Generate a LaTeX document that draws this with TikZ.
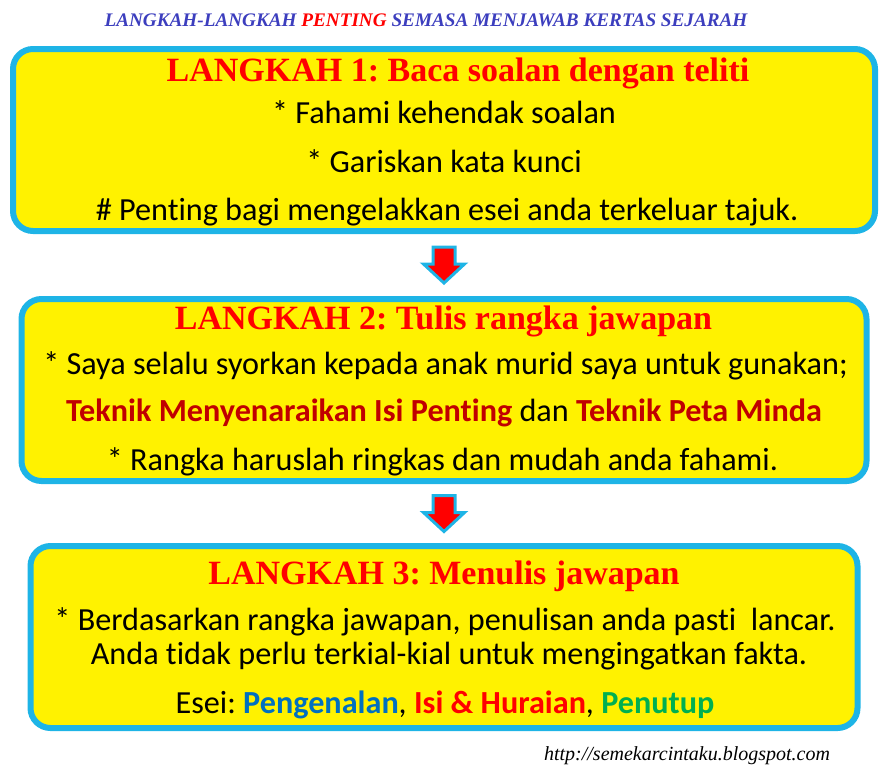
\documentclass[tikz,border=0pt]{standalone}
\usepackage{fontspec}
\setmainfont{Carlito}[Ligatures=NoCommon]
\newfontfamily\headfont{Liberation Serif}
\usetikzlibrary{positioning}
\definecolor{boxblue}{RGB}{30,180,230}
\definecolor{titleblue}{RGB}{60,62,190}
\definecolor{darkred}{RGB}{192,0,0}
\definecolor{pengblue}{RGB}{0,112,192}
\definecolor{tutupgreen}{RGB}{0,176,80}

\begin{document}
\frenchspacing
\begin{tikzpicture}[x=1pt,y=1pt,
  langkah/.style={draw=boxblue, line width=6pt, fill=yellow, rounded corners=20pt, minimum height=182pt},
  head/.style={anchor=base, text=red, font=\headfont\bfseries\fontsize{34}{40}\selectfont},
  body/.style={anchor=base, font=\fontsize{32.2}{36}\selectfont},
  turun/.style={draw=boxblue, line width=3pt, fill=red}]
  \useasboundingbox (0,0) rectangle (888,-764);

  \node[anchor=base, text=titleblue, font=\headfont\bfseries\itshape\fontsize{19.2}{22}\selectfont] (tajuk) at (426,-26) {LANGKAH-LANGKAH \textcolor{red}{PENTING} SEMASA MENJAWAB KERTAS SEJARAH};

  \node[langkah, minimum width=862pt] (a) at (444,-140) {};
  \node[langkah, minimum width=845pt, below=62pt of a] (b) {};
  \node[langkah, minimum width=827pt, below=59pt of b] (c) {};

  % langkah 1
  \node[head] (a1) at (458,-81) {LANGKAH 1: Baca soalan dengan teliti};
  \node[body] (a2) at (444,-123) {* Fahami kehendak soalan};
  \node[body] (a3) at (444,-172) {* Gariskan kata kunci};
  \node[body] (a4) at (447,-220) {\# Penting bagi mengelakkan esei anda terkeluar tajuk.};

  % langkah 2
  \node[head] (b1) at (443.5,-329) {LANGKAH 2: Tulis rangka jawapan};
  \node[body] (b2) at (445.5,-374) {* Saya selalu syorkan kepada anak murid saya untuk gunakan;};
  \node[body] (b3) at (444,-421) {\textbf{\textcolor{darkred}{Teknik Menyenaraikan Isi Penting}} dan \textbf{\textcolor{darkred}{Teknik Peta Minda}}};
  \node[body] (b4) at (442.5,-470) {* Rangka haruslah ringkas dan mudah anda fahami.};

  % langkah 3
  \node[head] (c1) at (444,-584) {LANGKAH 3: Menulis jawapan};
  \node[body] (c2) at (445,-630) {* Berdasarkan rangka jawapan, penulisan anda pasti~ lancar.};
  \node[body] (c3) at (449,-664) {Anda tidak perlu terkial-kial untuk mengingatkan fakta.};
  \node[body] (c4) at (445,-713) {Esei: \textbf{\textcolor{pengblue}{Pengenalan}}, \textbf{\textcolor{red}{Isi \& Huraian}}, \textbf{\textcolor{tutupgreen}{Penutup}}};

  % anak panah
  \path (a.south) -- (b.north) coordinate[midway] (ab);
  \path (b.south) -- (c.north) coordinate[midway] (bc);
  \draw[turun] ([yshift=-18pt]ab) -- ++(-20.5,19) -- ++(9.5,0) -- ++(0,17) -- ++(22,0) -- ++(0,-17) -- ++(9.5,0) -- cycle;
  \draw[turun] ([yshift=-18pt]bc) -- ++(-20.5,19) -- ++(9.5,0) -- ++(0,17) -- ++(22,0) -- ++(0,-17) -- ++(9.5,0) -- cycle;

  \node[anchor=base, font=\headfont\itshape\fontsize{20}{24}\selectfont] (url) at (687,-760) {http://semekarcintaku.blogspot.com};
\end{tikzpicture}
\end{document}
